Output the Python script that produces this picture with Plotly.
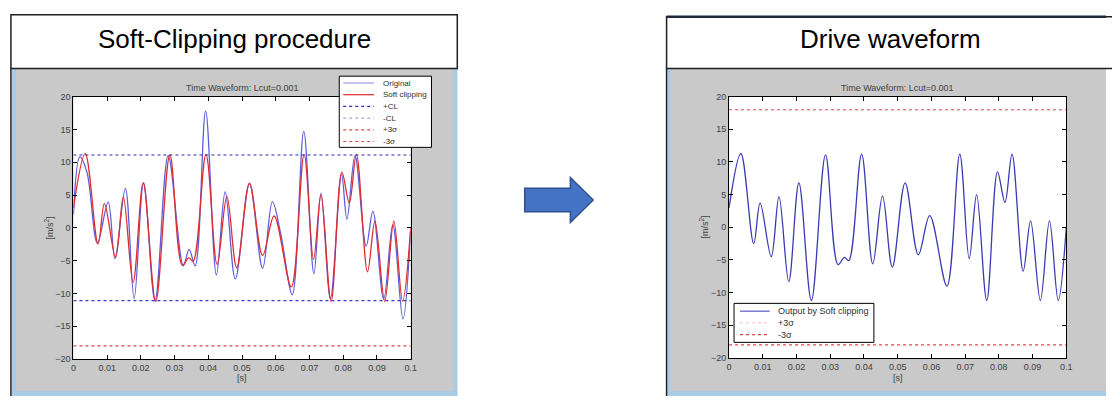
import plotly.graph_objects as go

W, H = 1112, 401

# ---------------- data ----------------
x_ticks = [0, 0.01, 0.02, 0.03, 0.04, 0.05, 0.06, 0.07, 0.08, 0.09, 0.1]
x_tick_labels = ["0", "0.01", "0.02", "0.03", "0.04", "0.05", "0.06", "0.07", "0.08", "0.09", "0.1"]
y_ticks = [-20, -15, -10, -5, 0, 5, 10, 15, 20]

# Original waveform (left chart), extrema
t_orig = [0.0, 0.0019, 0.0040, 0.0071, 0.0103, 0.0123, 0.0154, 0.0180, 0.0208, 0.0242,
          0.0281, 0.0326, 0.0343, 0.0361, 0.0392, 0.0424, 0.0450, 0.0480, 0.0522, 0.0561,
          0.0590, 0.0615, 0.0649, 0.0683, 0.0713, 0.0734, 0.0762, 0.0795, 0.0811, 0.0835,
          0.0868, 0.0888, 0.0920, 0.0947, 0.0977, 0.1]
v_orig = [2.0, 10.8, 8.5, -2.3, 3.9, -4.7, 6.0, -10.8, 6.9, -11.2,
          11.0, -5.8, -3.3, -5.8, 17.8, -7.2, 5.5, -7.8, 6.7, -6.2,
          4.0, -1.0, -10.2, 14.7, -7.0, 5.3, -10.8, 8.2, 1.3, 11.0,
          -2.8, 2.5, -10.9, 0.5, -13.9, -0.5]

# Soft clipping output (left red / right drive waveform)
t_soft = [0.0, 0.0035, 0.0073, 0.0092, 0.0125, 0.0148, 0.0177, 0.0207, 0.0244, 0.0286,
          0.0323, 0.0342, 0.0355, 0.0393, 0.0426, 0.0455, 0.0484, 0.0522, 0.0561, 0.0595,
          0.0646, 0.0684, 0.0712, 0.0734, 0.0764, 0.0796, 0.0818, 0.0839, 0.0872, 0.0894,
          0.0923, 0.0950, 0.0976, 0.1]
v_soft = [3.0, 11.3, -2.5, 3.7, -4.5, 4.7, -8.3, 6.8, -11.2, 11.1,
          -5.7, -4.6, -5.1, 11.2, -5.6, 4.8, -6.1, 6.8, -4.2, 1.8,
          -9.0, 11.2, -4.8, 5.0, -11.2, 8.5, 3.8, 11.2, -6.7, 1.0,
          -11.2, 1.0, -11.2, 0.0]

clip_level = 11.1
sigma3 = 18.0
t_span = [0.0, 0.1]

title_left = "Soft-Clipping procedure"
title_right = "Drive waveform"
plot_title = "Time Waveform: Lcut=0.001"

left_legend_names = ["Original", "Soft clipping", "+CL", "-CL", "+3σ", "-3σ"]
right_legend_names = ["Output by Soft clipping", "+3σ", "-3σ"]

# ---------------- styles ----------------
FONT = "Liberation Sans, Arial, sans-serif"
C_ORIG = "#5e5ee0"
C_SOFT = "#e02c2c"
C_OUT = "#3a3ab4"
C_PCL = "#2a2ab8"
C_MCL = "#3a3ac0"
C_SIG = "#e04848"

left_styles = [dict(color="#9c9ce6", width=1.2), dict(color=C_SOFT, width=1.2),
               dict(color=C_PCL, width=1.2, dash="dot"), dict(color="#a8a8dc", width=1.2, dash="dot"),
               dict(color=C_SIG, width=1.2, dash="dot"), dict(color=C_SIG, width=1.2, dash="dot")]
right_styles = [dict(color="#5a5ac8", width=1.2), dict(color="#f2d0d0", width=1.2, dash="dot"),
                dict(color=C_SIG, width=1.2, dash="dot")]


def X(p):
    return p / W


def Y(p):
    return 1 - p / H


fig = go.Figure()

# Left chart traces
fig.add_trace(go.Scatter(x=t_orig, y=v_orig, mode="lines", name="Original",
                         line=dict(color=C_ORIG, width=1.3, shape="spline", smoothing=1.0),
                         xaxis="x", yaxis="y"))
fig.add_trace(go.Scatter(x=t_soft, y=v_soft, mode="lines", name="Soft clipping",
                         line=dict(color=C_SOFT, width=1.3, shape="spline", smoothing=1.0),
                         xaxis="x", yaxis="y"))
fig.add_trace(go.Scatter(x=t_span, y=[clip_level, clip_level], mode="lines", name="+CL",
                         line=dict(color=C_PCL, width=1.2, dash="dot"), xaxis="x", yaxis="y"))
fig.add_trace(go.Scatter(x=t_span, y=[-clip_level, -clip_level], mode="lines", name="-CL",
                         line=dict(color=C_MCL, width=1.2, dash="dot"), xaxis="x", yaxis="y"))
fig.add_trace(go.Scatter(x=t_span, y=[-sigma3, -sigma3], mode="lines", name="-3σ",
                         line=dict(color=C_SIG, width=1.2, dash="dot"), xaxis="x", yaxis="y"))

# Right chart traces
fig.add_trace(go.Scatter(x=t_soft, y=v_soft, mode="lines", name="Output by Soft clipping",
                         line=dict(color=C_OUT, width=1.3, shape="spline", smoothing=1.0),
                         xaxis="x2", yaxis="y2"))
fig.add_trace(go.Scatter(x=t_span, y=[sigma3, sigma3], mode="lines", name="+3σ",
                         line=dict(color=C_SIG, width=1.2, dash="dot"), xaxis="x2", yaxis="y2"))
fig.add_trace(go.Scatter(x=t_span, y=[-sigma3, -sigma3], mode="lines", name="-3σ",
                         line=dict(color=C_SIG, width=1.2, dash="dot"), xaxis="x2", yaxis="y2"))

axis_common = dict(showgrid=False, zeroline=False, showline=True, linecolor="black",
                   linewidth=1, mirror="ticks", ticks="inside", ticklen=4,
                   tickcolor="black", tickfont=dict(family=FONT, size=9, color="#404040"))

L_plot = (71, 411, 94, 363)
R_plot = (732, 1072, 94, 362)

fig.update_layout(
    width=W, height=H,
    margin=dict(l=0, r=0, t=0, b=0),
    paper_bgcolor="white",
    plot_bgcolor="rgba(0,0,0,0)",
    font=dict(family=FONT),
    showlegend=False,
    xaxis=dict(domain=[X(L_plot[0]), X(L_plot[1])], range=[0, 0.1], tickvals=x_ticks,
               ticktext=x_tick_labels, anchor="y", **axis_common),
    yaxis=dict(domain=[Y(L_plot[3]), Y(L_plot[2])], range=[-20, 20], tickvals=y_ticks,
               anchor="x", **axis_common),
    xaxis2=dict(domain=[X(R_plot[0]), X(R_plot[1])], range=[0, 0.1], tickvals=x_ticks,
                ticktext=x_tick_labels, anchor="y2", **axis_common),
    yaxis2=dict(domain=[Y(R_plot[3]), Y(R_plot[2])], range=[-20, 20], tickvals=y_ticks,
                anchor="x2", **axis_common),
)

shapes = []
ann = []


def rect(x0, y0, x1, y1, fill, line_color=None, lw=0, layer="below"):
    shapes.append(dict(type="rect", xref="paper", yref="paper",
                       x0=X(x0), x1=X(x1), y0=Y(y1), y1=Y(y0),
                       fillcolor=fill, line=dict(color=line_color or fill, width=lw),
                       layer=layer))


def seg(x0, y0, x1, y1, style, layer="below"):
    shapes.append(dict(type="line", xref="paper", yref="paper",
                       x0=X(x0), x1=X(x1), y0=Y(y0), y1=Y(y1),
                       line=style, layer=layer))


GRAY = "#c9c9c9"
LBLUE = "#aacbe8"
# left panel
rect(9, 65, 458, 401, GRAY)
rect(9, 65, 13, 401, LBLUE)
rect(9, 396, 458, 401, LBLUE)
rect(454, 65, 458, 401, LBLUE)
rect(L_plot[0], L_plot[2], L_plot[1], L_plot[3], "white")
seg(8, 65, 8, 401, dict(color="#202020", width=1.5))
rect(8, 10, 458, 65, "white", "#202020", 1.5)
# right panel
rect(670, 65, 1112, 401, GRAY)
rect(670, 65, 673, 401, LBLUE)
rect(670, 396, 1112, 401, LBLUE)
rect(R_plot[0], R_plot[2], R_plot[1], R_plot[3], "white")
seg(669, 65, 669, 401, dict(color="#202020", width=1.5))
rect(669, 12, 1125, 65, "white", "#202020", 1.5)
seg(669, 12, 1112, 12, dict(color="#1f2a3a", width=2.5))

# arrow
pts = [(526, 188), (572, 188), (572, 177), (595, 200), (572, 223), (572, 212), (526, 212)]
path = "M " + " L ".join(f"{X(a):.5f},{Y(b):.5f}" for a, b in pts) + " Z"
shapes.append(dict(type="path", xref="paper", yref="paper", path=path,
                   fillcolor="#4472C4", line=dict(color="#2F528F", width=1.5), layer="above"))


# manual legends (MATLAB style compact boxes)
def legend_box(box, names, styles, y_first, dy, sx0, sx1, tx, fsize):
    rect(box[0], box[1], box[2], box[3], "white", "black", 1, layer="above")
    for i, (nm, st) in enumerate(zip(names, styles)):
        yy = y_first + i * dy
        seg(sx0, yy, sx1, yy, st, layer="above")
        ann.append(dict(text=nm, x=X(tx), y=Y(yy), xref="paper", yref="paper",
                        showarrow=False, xanchor="left", yanchor="middle",
                        font=dict(family=FONT, size=fsize, color="#303030")))


legend_box((339, 73, 432, 146), left_legend_names, left_styles, 80, 12, 343, 374, 381, 8)
legend_box((737, 306, 878, 346), right_legend_names, right_styles, 314, 12, 743, 773, 779, 9)

fig.update_layout(shapes=shapes)

ann.append(dict(text=title_left, x=X(233), y=Y(35), xref="paper", yref="paper",
                showarrow=False, font=dict(family=FONT, size=26, color="black"),
                xanchor="center", yanchor="middle"))
ann.append(dict(text=title_right, x=X(895), y=Y(35), xref="paper", yref="paper",
                showarrow=False, font=dict(family=FONT, size=26, color="black"),
                xanchor="center", yanchor="middle"))
for (x0, x1, y0, y1) in (L_plot, R_plot):
    cx = (x0 + x1) / 2
    ann.append(dict(text=plot_title, x=X(cx), y=Y(85), xref="paper", yref="paper",
                    showarrow=False, font=dict(family=FONT, size=9, color="#404040"),
                    xanchor="center", yanchor="middle"))
    ann.append(dict(text="[s]", x=X(cx), y=Y(383), xref="paper", yref="paper",
                    showarrow=False, font=dict(family=FONT, size=9, color="#404040"),
                    xanchor="center", yanchor="middle"))
    ann.append(dict(text="[m/s<sup>2</sup>]", x=X(x0 - 25), y=Y((y0 + y1) / 2), xref="paper",
                    yref="paper", showarrow=False, textangle=-90,
                    font=dict(family=FONT, size=9, color="#404040"),
                    xanchor="center", yanchor="middle"))
fig.update_layout(annotations=ann)

fig.write_html("out.html", config={"displayModeBar": False},
               post_script="document.body.style.margin='0';document.body.style.overflow='hidden';")
